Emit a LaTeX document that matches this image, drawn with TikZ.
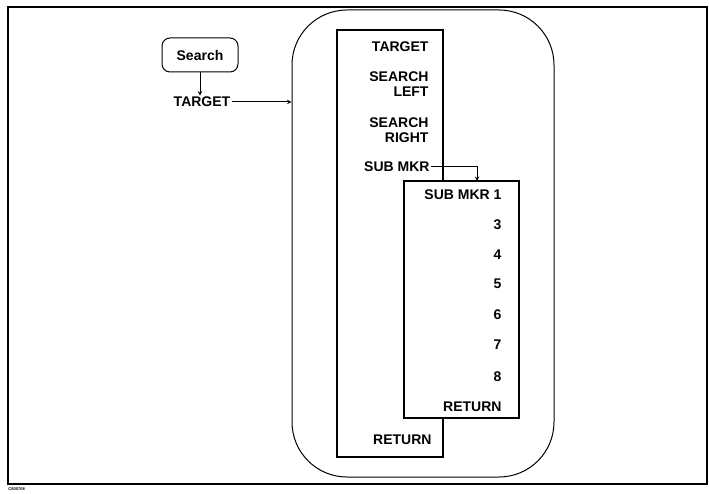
\documentclass[tikz,border=0pt]{standalone}
\usepackage{fontspec}
\setmainfont{Liberation Sans}
\begin{document}
\begin{tikzpicture}[>=stealth,x=1pt,y=-1pt,line width=1pt,
    lbl/.style={font=\bfseries\fontsize{14}{15}\selectfont,inner sep=1pt},
    menubox/.style={draw,line width=1.2pt,fill=white}]
    \useasboundingbox (0,0) rectangle (709,494);
    % Marco
    \draw[line width=1.8pt] (8,7) rectangle (707,484);
    \node[anchor=north west,inner sep=0pt,font=\bfseries\fontsize{4}{4}\selectfont] (figid) at (8,487) {C800708};
    % Tecla Search y TARGET
    \node[draw,rounded corners=8pt,minimum width=76pt,minimum height=34pt,lbl] (search) at (200,55) {Search};
    \node[lbl] (tgt) at (202,102) {TARGET};
    \draw[->] (search.south) -- (search.south |- tgt.north);
    % Menu exterior
    \node[draw,rounded corners=55pt,minimum width=262pt,minimum height=467pt] (outer) at (423,243.5) {};
    \draw[->] (tgt.east) -- (tgt.east -| outer.west);
    % Menu TARGET
    \node[menubox,minimum width=106pt,minimum height=427pt] (menu) at (390,243.5) {};
    \node[lbl,anchor=east] (mtarget) at (430,47) {TARGET};
    \node[lbl,anchor=east,align=right] (msleft) at (430,84) {SEARCH\\LEFT};
    \node[lbl,anchor=east,align=right] (msright) at (430,130) {SEARCH\\RIGHT};
    \node[lbl,anchor=east] (msub) at (431,167) {SUB MKR};
    \node[lbl,anchor=east] (mreturn) at (433,440) {RETURN};
    % Submenu SUB MKR
    \node[menubox,minimum width=115pt,minimum height=237pt] (submenu) at (461.5,299.5) {};
    \coordinate (subin) at (477,181);
    \draw[->] (msub.east) -| (subin);
    \node[lbl,anchor=east] (ssub1) at (503,195) {SUB MKR 1};
    \foreach \n/\y in {3/225,4/255,5/284,6/315,7/345,8/377}
      \node[lbl,anchor=east] (ssub\n) at (503,\y) {\n};
    \node[lbl,anchor=east] (sreturn) at (503,407) {RETURN};
\end{tikzpicture}
\end{document}
